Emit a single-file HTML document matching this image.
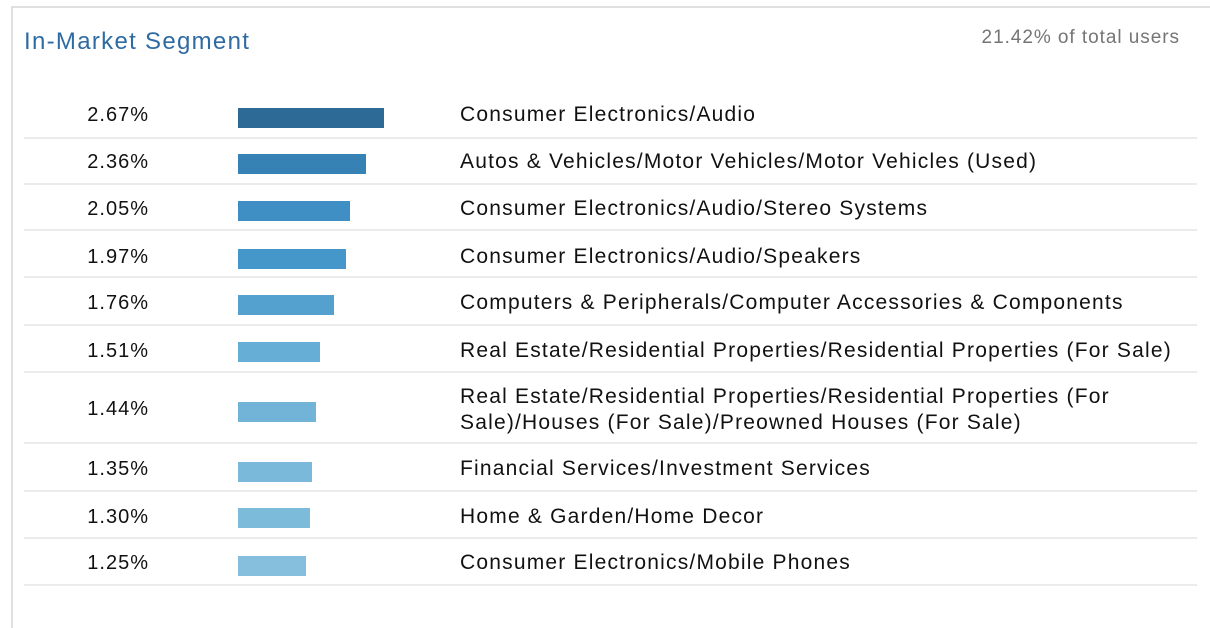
<!DOCTYPE html><html><head><style>
body{margin:0;width:1210px;height:606px;background:#fff;font-family:"Liberation Sans",sans-serif;position:relative;overflow:hidden}
.card{position:absolute;left:11px;top:6px;width:1199px;height:620px;border-left:2px solid #e0e0e0;border-top:2px solid #e0e0e0}
.t{position:absolute;left:24px;top:28px;font-size:24px;color:#2f6ba3;letter-spacing:1.3px}
.s{position:absolute;right:30px;top:27px;font-size:19px;color:#757575;letter-spacing:0.95px}
.r{position:absolute;left:24px;width:1173px;border-bottom:2px solid #ebebeb}
.n{position:absolute;right:1061px;font-size:20px;color:#111;letter-spacing:1px}
.b{position:absolute;left:238px;height:20px}
.l{position:absolute;left:460px;font-size:21px;color:#111;line-height:26px;letter-spacing:1.2px;white-space:nowrap}
</style></head><body><div class="card"></div>
<div class="t">In-Market Segment</div><div class="s">21.42% of total users</div>
<div class="r" style="top:91px;height:46px"></div>
<div class="n" style="top:104px">2.67%</div><div class="b" style="top:108px;width:146px;background:#2d6a96"></div><div class="l" style="top:102px">Consumer Electronics/Audio</div>
<div class="r" style="top:137px;height:46px"></div>
<div class="n" style="top:151px">2.36%</div><div class="b" style="top:154px;width:128px;background:#3682b5"></div><div class="l" style="top:149px">Autos &amp; Vehicles/Motor Vehicles/Motor Vehicles (Used)</div>
<div class="r" style="top:183px;height:46px"></div>
<div class="n" style="top:198px">2.05%</div><div class="b" style="top:201px;width:112px;background:#3f8fc4"></div><div class="l" style="top:196px">Consumer Electronics/Audio/Stereo Systems</div>
<div class="r" style="top:230px;height:46px"></div>
<div class="n" style="top:246px">1.97%</div><div class="b" style="top:249px;width:108px;background:#4597c9"></div><div class="l" style="top:244px">Consumer Electronics/Audio/Speakers</div>
<div class="r" style="top:277px;height:47px"></div>
<div class="n" style="top:292px">1.76%</div><div class="b" style="top:295px;width:96px;background:#54a1cf"></div><div class="l" style="top:290px">Computers &amp; Peripherals/Computer Accessories &amp; Components</div>
<div class="r" style="top:325px;height:46px"></div>
<div class="n" style="top:340px">1.51%</div><div class="b" style="top:342px;width:82px;background:#67aed6"></div><div class="l" style="top:338px">Real Estate/Residential Properties/Residential Properties (For Sale)</div>
<div class="r" style="top:372px;height:70px"></div>
<div class="n" style="top:398px">1.44%</div><div class="b" style="top:402px;width:78px;background:#72b4d8"></div><div class="l" style="top:384px">Real Estate/Residential Properties/Residential Properties (For<br>Sale)/Houses (For Sale)/Preowned Houses (For Sale)</div>
<div class="r" style="top:443px;height:47px"></div>
<div class="n" style="top:458px">1.35%</div><div class="b" style="top:462px;width:74px;background:#7ab9da"></div><div class="l" style="top:456px">Financial Services/Investment Services</div>
<div class="r" style="top:491px;height:46px"></div>
<div class="n" style="top:506px">1.30%</div><div class="b" style="top:508px;width:72px;background:#7dbbdb"></div><div class="l" style="top:504px">Home &amp; Garden/Home Decor</div>
<div class="r" style="top:538px;height:46px"></div>
<div class="n" style="top:552px">1.25%</div><div class="b" style="top:556px;width:68px;background:#86bfdd"></div><div class="l" style="top:550px">Consumer Electronics/Mobile Phones</div>
</body></html>
